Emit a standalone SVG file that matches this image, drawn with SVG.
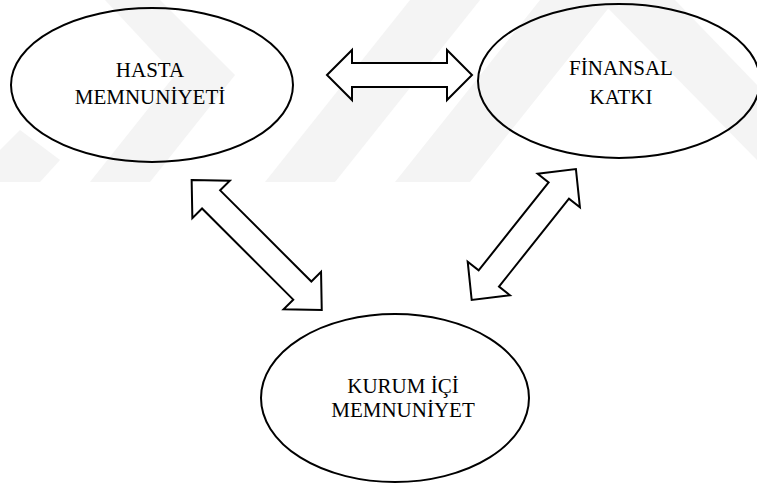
<svg xmlns="http://www.w3.org/2000/svg" width="757" height="484" viewBox="0 0 757 484">
  <style>
    .wm { fill: #f4f4f4; stroke: none; }
    .node { fill: none; stroke: #000; stroke-width: 2; }
    .arrow { fill: #fff; stroke: #000; stroke-width: 2; stroke-linejoin: miter; }
    .label { font-family: "Times New Roman", "Liberation Serif", Tinos, "DejaVu Serif", serif; font-size: 21px; fill: #000; text-anchor: middle; }
  </style>
  <rect width="757" height="484" fill="#fff"/>
  <g id="watermark">
    <polygon class="wm" points="105,0 160,0 235,75 150,182 90,182 175,75"/>
    <polygon class="wm" points="265,182 335,182 480,0 410,0"/>
    <polygon class="wm" points="395,182 470,182 615,0 540,0"/>
    <polygon class="wm" points="600,0 675,0 757,85 757,160"/>
    <polygon class="wm" points="0,150 0,182 40,182 60,160 20,130"/>
  </g>
  <g id="connectors">
    <path class="arrow" d="M327,75 L352,50 L352,63 L447,63 L447,50 L472,75 L447,100 L447,87 L352,87 L352,100 Z"/>
    <path class="arrow" transform="translate(256.7,245) rotate(45)" d="M-92,0 L-64.5,-26.5 L-64.5,-12.8 L64.5,-12.8 L64.5,-26.5 L92,0 L64.5,26.5 L64.5,12.8 L-64.5,12.8 L-64.5,26.5 Z"/>
    <path class="arrow" transform="translate(523.8,234.5) rotate(-51.5)" d="M-83.7,0 L-56.2,-27 L-56.2,-13 L56.2,-13 L56.2,-27 L83.7,0 L56.2,27 L56.2,13 L-56.2,13 L-56.2,27 Z"/>
  </g>
  <g id="hasta">
    <ellipse class="node" cx="152" cy="85" rx="141" ry="77"/>
    <text class="label" x="150" y="77">HASTA</text>
    <text class="label" x="150" y="104">MEMNUNİYETİ</text>
  </g>
  <g id="finansal">
    <ellipse class="node" cx="619" cy="81" rx="141" ry="77"/>
    <text class="label" x="621" y="75">FİNANSAL</text>
    <text class="label" x="621" y="104">KATKI</text>
  </g>
  <g id="kurum">
    <ellipse class="node" cx="395" cy="398" rx="134" ry="84"/>
    <text class="label" x="403" y="393">KURUM İÇİ</text>
    <text class="label" x="403" y="417">MEMNUNİYET</text>
  </g>
</svg>
